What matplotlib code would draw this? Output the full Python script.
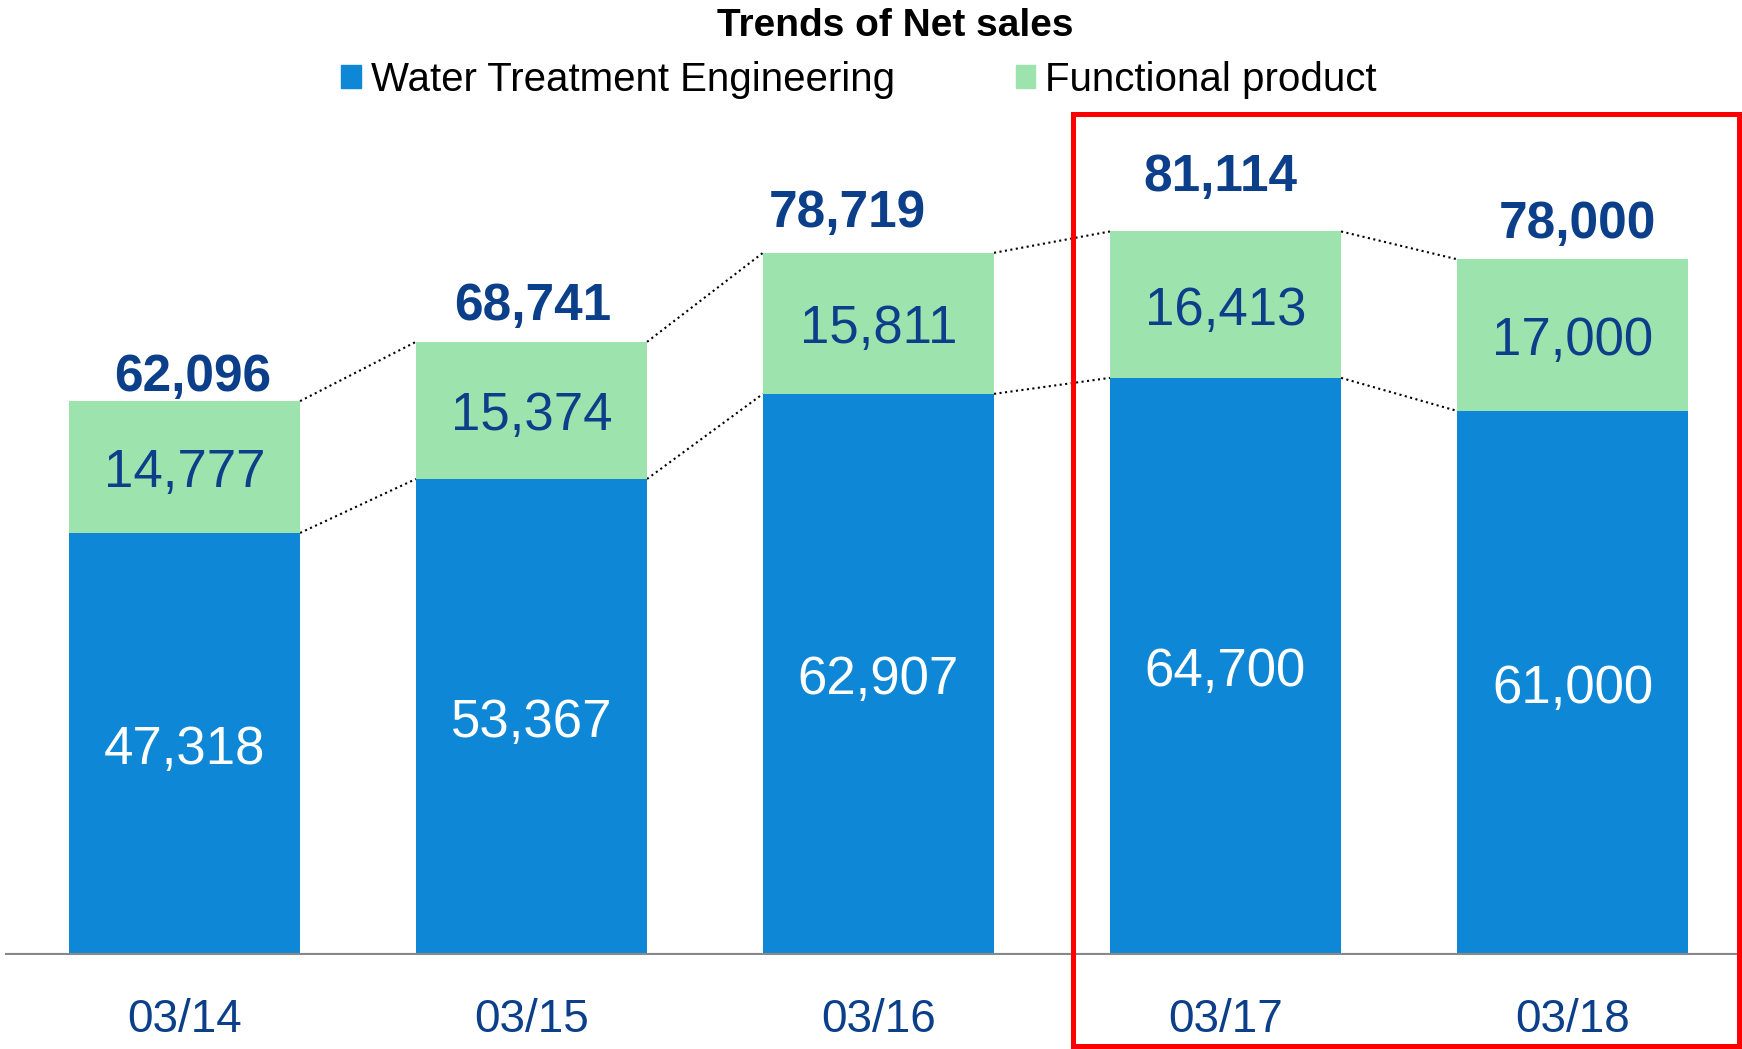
import numpy as np
import matplotlib

matplotlib.use("agg")
import matplotlib.pyplot as plt
from matplotlib.patches import Rectangle, Patch

plt.rcParams["font.family"] = ["Liberation Sans", "DejaVu Sans"]

# data
years = ["03/14", "03/15", "03/16", "03/17", "03/18"]
water = [47318, 53367, 62907, 64700, 61000]
functional = [14777, 15374, 15811, 16413, 17000]
totals = [62096, 68741, 78719, 81114, 78000]

# label nudges for the totals (pixels)
tot_dx = [8, 1, -31, -5, 5]
tot_dy = [24, 35, 39, 54, 35]

BLUE = "#0E88D6"
GREEN = "#9DE3AE"
NAVY = "#0C3F8A"

W, H = 1742, 1049
fig = plt.figure(figsize=(W / 100, H / 100), dpi=100)
ax = fig.add_axes([0, 94 / H, 1, 1 - 94 / H])

x = np.arange(len(years))
bw = 0.666
ax.bar(x, water, bw, color=BLUE, zorder=2)
ax.bar(x, functional, bw, bottom=water, color=GREEN, zorder=2)

ax.set_xlim(-0.5317, 4.4885)
ax.set_ylim(0, 107063)

for i in range(len(years)):
    ax.annotate(f"{water[i]:,}", (x[i], water[i] / 2), xytext=(0, -6),
                textcoords="offset pixels", ha="center", va="center",
                color="white", fontsize=38, zorder=3)
    ax.annotate(f"{functional[i]:,}", (x[i], water[i] + functional[i] / 2),
                xytext=(0, -6), textcoords="offset pixels", ha="center", va="center",
                color=NAVY, fontsize=38, zorder=3)
    ax.annotate(f"{totals[i]:,}", (x[i], totals[i]), xytext=(tot_dx[i], tot_dy[i]),
                textcoords="offset pixels", ha="center", va="center",
                color=NAVY, fontsize=37, fontweight="bold", zorder=3)

# dotted connectors between bars
for i in range(len(years) - 1):
    x0, x1 = x[i] + bw / 2, x[i + 1] - bw / 2
    ax.plot([x0, x1], [totals[i], totals[i + 1]], ls=":", color="black", lw=1.5, zorder=1)
    ax.plot([x0, x1], [water[i], water[i + 1]], ls=":", color="black", lw=1.5, zorder=1)

ax.axhline(0, xmin=7 / W, color="#888888", lw=3, zorder=3)
for s in ax.spines.values():
    s.set_visible(False)
ax.set_yticks([])
ax.set_xticks(x)
ax.set_xticklabels(years, fontsize=33, color=NAVY)
ax.tick_params(axis="x", length=0, pad=31)

fig.text(895 / W, 1 - 26 / H, "Trends of Net sales", ha="center", va="center",
         fontsize=28, fontweight="bold", color="black")

handles = [Patch(color=BLUE, label="Water Treatment Engineering"),
           Patch(color=GREEN, label="Functional product")]
fig.legend(handles=handles, loc="center", bbox_to_anchor=(859 / W, 1 - 80 / H),
           ncol=2, frameon=False, fontsize=29, handlelength=0.48, handleheight=0.48,
           handletextpad=0.25, columnspacing=3.0, borderpad=0)

# red highlight box
fig.patches.append(Rectangle((1073 / W, 3 / H), (1739 - 1073) / W, (1046 - 114) / H,
                             transform=fig.transFigure, fill=False,
                             edgecolor="#FF0000", lw=3.6, zorder=5))

plt.savefig("out.png", dpi=100)
